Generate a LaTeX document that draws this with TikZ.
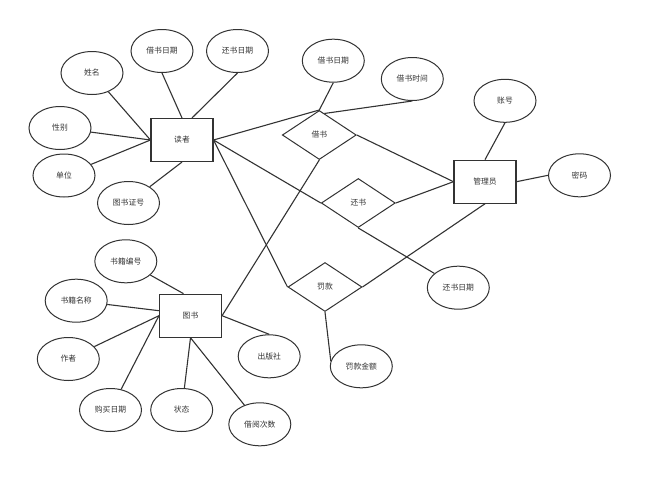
\documentclass[tikz,border=0pt]{standalone}
\usepackage{fontspec}
\newfontfamily\cjk{Noto Sans CJK SC}
\usetikzlibrary{shapes.geometric}
\definecolor{ln}{HTML}{333333}
\definecolor{tx}{HTML}{333333}
\begin{document}
\begin{tikzpicture}[x=1pt,y=-1pt,
  every node/.style={font=\cjk\fontsize{7.8}{9}\selectfont,text=tx},
  ent/.style={draw=ln,line width=1.1pt,rectangle,minimum width=62pt,minimum height=43pt,inner sep=0pt},
  attr/.style={draw=ln,line width=1pt,ellipse,minimum width=62pt,minimum height=43pt,inner sep=0pt},
  rel/.style={draw=ln,line width=1pt,diamond,minimum width=74pt,minimum height=49pt,inner sep=0pt,aspect=1.5},
  conn/.style={draw=ln,line width=1.1pt}]
\useasboundingbox (0,0) rectangle (649,485);
% entities
\node[ent] (reader) at (182,140) {读者};
\node[ent] (admin) at (485,181.7) {管理员};
\node[ent] (book) at (190.5,315.7) {图书};
% relations
\node[rel] (borrow) at (319.3,135) {借书};
\node[rel] (ret) at (358.3,203) {还书};
\node[rel] (fine) at (325,287) {罚款};
% reader attributes
\node[attr] (rname) at (92,73) {姓名};
\node[attr] (rbdate) at (162,51) {借书日期};
\node[attr] (rrdate) at (237.5,51) {还书日期};
\node[attr] (rsex) at (60,128) {性别};
\node[attr] (runit) at (64,175.5) {单位};
\node[attr] (rcard) at (128.5,203) {图书证号};
% relation attributes
\node[attr] (bdate) at (333.3,60.7) {借书日期};
\node[attr] (btime) at (412.3,79) {借书时间};
\node[attr] (rdate) at (458.3,287.7) {还书日期};
\node[attr] (famt) at (361.3,366.3) {罚款金额};
% admin attributes
\node[attr] (acct) at (505,100.8) {账号};
\node[attr] (pwd) at (579.5,175.3) {密码};
% book attributes
\node[attr] (bno) at (125.8,261.3) {书籍编号};
\node[attr] (bname) at (76.2,300.7) {书籍名称};
\node[attr] (bauth) at (68.3,359) {作者};
\node[attr] (bbuy) at (110.5,410) {购买日期};
\node[attr] (bstat) at (181.7,410) {状态};
\node[attr] (bcnt) at (259.8,424.3) {借阅次数};
\node[attr] (bpub) at (269.2,356.3) {出版社};
% reader attribute links
\draw[conn] (rname) -- (reader.west);
\draw[conn] (rsex) -- (reader.west);
\draw[conn] (runit) -- (reader.west);
\draw[conn] (rbdate.south) -- (reader.north);
\draw[conn] (rrdate.south) -- ([xshift=10pt]reader.north);
\draw[conn] (rcard) -- (reader.south);
% relation links
\draw[conn] (reader.east) -- (borrow.north);
\draw[conn] (bdate.south) -- (borrow.north);
\draw[conn] (btime.south) -- ([xshift=5pt,yshift=-3.5pt]borrow.north);
\draw[conn] (borrow.east) -- (admin.west);
\draw[conn] (book.east) -- (borrow.south);
\draw[conn] (reader.east) -- (ret.west);
\draw[conn] (ret.east) -- (admin.west);
\draw[conn] (ret.south) -- (rdate);
\draw[conn] (reader.east) -- (fine.west);
\draw[conn] (fine.east) -- (admin.south);
\draw[conn] (fine.south) -- (famt.170);
% admin attribute links
\draw[conn] (acct.south) -- (admin.north);
\draw[conn] (admin.east) -- (pwd.west);
% book attribute links
\draw[conn] (bno) -- ([xshift=-7pt]book.north);
\draw[conn] (bname) -- ([yshift=5pt]book.west);
\draw[conn] (bauth) -- (book.west);
\draw[conn] (bbuy) -- (book.west);
\draw[conn] (bstat) -- (book.south);
\draw[conn] (bcnt) -- (book.south);
\draw[conn] (book.east) -- (bpub.north);
\end{tikzpicture}
\end{document}
